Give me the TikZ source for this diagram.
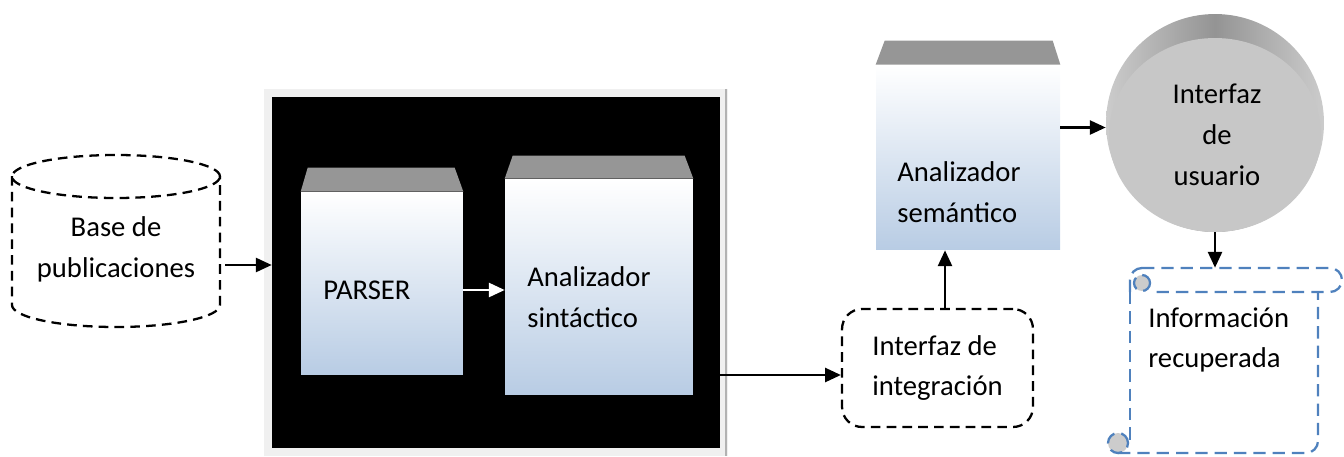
\documentclass[tikz,border=0pt]{standalone}
\usepackage{fontspec}
\setmainfont{Carlito}
\usetikzlibrary{arrows.meta}
\definecolor{facebl}{RGB}{184,204,228}
\definecolor{topgray}{RGB}{150,150,150}
\definecolor{scrollbl}{RGB}{79,129,189}

\begin{document}
\begin{tikzpicture}[x=0.02cm, y=-0.02cm,
      every node/.style = {font=\fontsize{16.3}{23.2}\selectfont},
      lbl/.style = {align=left, inner sep=0pt},
      face/.style = {shape=rectangle, inner sep=0pt,
        top color=white, bottom color=facebl},
      dashbox/.style = {draw, line width=1.3pt, dash pattern=on 5.5pt off 3.5pt},
      scroll/.style = {draw=scrollbl, line width=1.3pt, dash pattern=on 7pt off 4pt},
      arr/.style = {-{Triangle[length=9pt,width=8pt]}, line width=1.3pt}]
  \useasboundingbox (0,0) rectangle (1344,456);

  % fuente de datos
  \node[minimum width=4.16cm, inner sep=0pt, align=center] (base) at (116,249) {Base de\\publicaciones};
  \draw[dashbox] (116,176.5) ellipse [x radius=2.08cm, y radius=0.43cm];
  \draw[dashbox] (12,176) -- (12,305) arc [start angle=180, end angle=360, x radius=2.08cm, y radius=0.44cm] -- (220,176);

  % bloque negro con parser y analizador
  \fill[black!6] (264,89) rectangle (728,456);
  \draw[black!30, line width=1pt] (726,89) -- (726,456);
  \node[fill=black, inner sep=0pt, minimum width=8.96cm, minimum height=7.02cm] (frame) at (496,272.5) {};
  \node[face, minimum width=3.24cm, minimum height=3.66cm] (parser) at (382,283.5) {};
  \fill[topgray] (parser.north west) -- ++(7,-24) -- ++(147,0) -- (parser.north east) -- cycle;
  \node[lbl, anchor=west] (parsertxt) at (323,290) {PARSER};
  \node[face, minimum width=3.76cm, minimum height=4.32cm] (sint) at (599,287) {};
  \fill[topgray] (sint.north west) -- ++(8,-23) -- ++(172,0) -- (sint.north east) -- cycle;
  \node[lbl, anchor=west] (sinttxt) at (527,297) {Analizador\\sintáctico};

  % integracion y semantico
  \node[dashbox, rounded corners=0.4cm, minimum width=3.82cm, minimum height=2.36cm, align=left] (integ) at (937.5,368) {Interfaz de\\integración};
  \node[face, minimum width=3.68cm, minimum height=3.7cm] (sem) at (968,157.5) {};
  \fill[topgray] (sem.north west) -- ++(9,-24) -- ++(168,0) -- (sem.north east) -- cycle;
  \node[lbl, anchor=west] (semtxt) at (897,192) {Analizador\\semántico};

  % interfaz de usuario
  \node[circle, inner sep=0pt, minimum size=4.36cm, left color=black!20, right color=black!20, middle color=black!42] (user) at (1215,123) {};
  \fill[black!22] (1215,135) ellipse [x radius=2.12cm, y radius=1.94cm];
  \node[align=center, inner sep=0pt] (usertxt) at (1217,135) {Interfaz\\de\\usuario};

  % pergamino
  \node[inner sep=0pt, minimum width=4.28cm, minimum height=3.7cm] (info) at (1235,360.5) {};
  \draw[scroll, rounded corners=0.24cm] (1142,268) -- (1342,268) -- (1342,292) -- (1150,292);
  \draw[scroll] (1130,292) -- (1130,280) to[out=90, in=180] (1142,268);
  \filldraw[scroll, fill=black!20] (1142,283) circle [radius=0.16cm];
  \draw[scroll] (1130,292) -- (1130,443);
  \draw[scroll, rounded corners=0.24cm] (1118,453) -- (1318,453) -- (1318,292);
  \filldraw[scroll, fill=black!20] (1118,443) circle [radius=0.2cm];
  \node[lbl, anchor=west] (infotxt) at (1148,340) {Información\\recuperada};

  % flechas
  \coordinate (a1) at ([xshift=0.1cm, yshift=-0.32cm]base.east);
  \draw[arr] (a1) -- (a1 -| frame.west);
  \coordinate (a2) at ([yshift=-0.13cm]parser.east);
  \draw[arr, white] (a2) -- (a2 -| sint.west);
  \coordinate (a3) at ([yshift=-0.14cm]integ.west);
  \draw[arr] (a3 -| frame.east) -- (a3);
  \coordinate (a4) at ([xshift=0.15cm]integ.north);
  \draw[arr] (a4) -- (a4 |- sem.south);
  \coordinate (a5) at ([yshift=0.6cm]sem.east);
  \draw[arr] (a5) -- (a5 -| user.west);
  \draw[arr] (user.south) -- (user.south |- info.north);
\end{tikzpicture}
\end{document}
